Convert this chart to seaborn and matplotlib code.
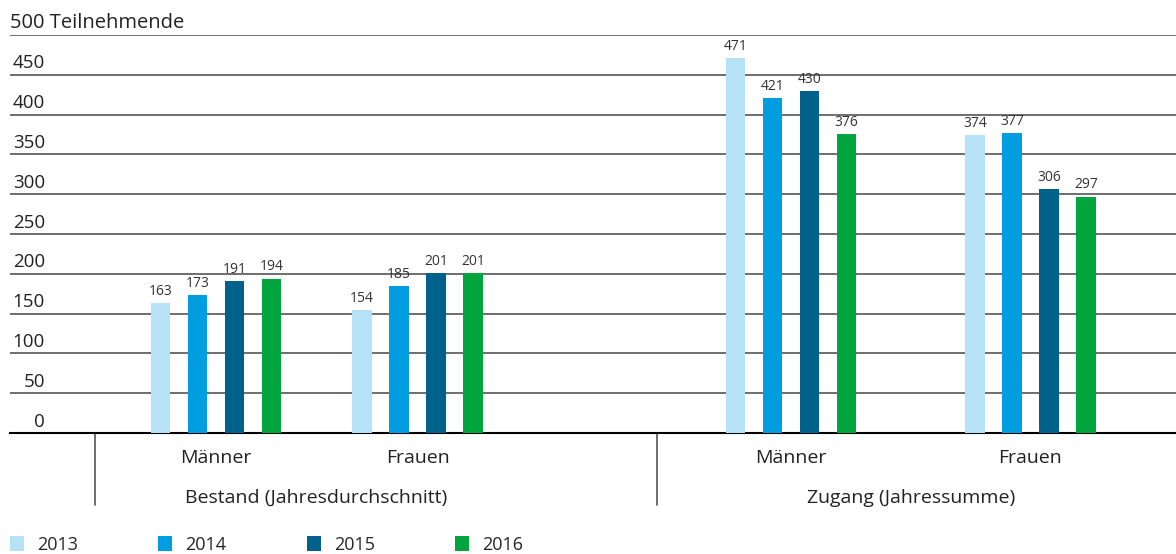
import pandas as pd
import numpy as np
import seaborn as sns
import matplotlib.pyplot as plt
from matplotlib.lines import Line2D

# Daten
kategorien = ['Männer', 'Frauen', 'Männer', 'Frauen']
oberkategorien = ['Bestand (Jahresdurchschnitt)', 'Zugang (Jahressumme)']
jahre = ['2013', '2014', '2015', '2016']
werte_2013 = [163, 154, 471, 374]
werte_2014 = [173, 185, 421, 377]
werte_2015 = [191, 201, 430, 306]
werte_2016 = [194, 201, 376, 297]
y_ticks = [0, 50, 100, 150, 200, 250, 300, 350, 400, 450, 500]
einheit = 'Teilnehmende'

farben = ['#b6e2f8', '#009ee0', '#00628a', '#00a53d']

# Layout (Achse in Pixel-Einheiten, 10..1176)
pos = [216, 417.5, 791, 1030.5]      # Gruppenmitten
ober_pos = [316, 911]                 # Mitte der Oberkategorien
trenner = [95, 657]                   # senkrechte Trennlinien

rows = []
for j, werte in zip(jahre, [werte_2013, werte_2014, werte_2015, werte_2016]):
    for p, w in zip(pos, werte):
        rows.append({'pos': p, 'jahr': j, 'wert': w})
df = pd.DataFrame(rows)

sns.set_theme(style='white')
plt.rcParams['font.family'] = ['Open Sans', 'DejaVu Sans']
txt_col = '#222222'

fig = plt.figure(figsize=(11.76, 5.54), dpi=100)
ax = fig.add_axes([10 / 1176, 121 / 554, 1166 / 1176, 398 / 554])

sns.barplot(data=df, x='pos', y='wert', hue='jahr', native_scale=True,
            palette=farben, saturation=1, width=0.7345, gap=0.486,
            errorbar=None, ax=ax, zorder=3, linewidth=0)

ax.set_xlim(10, 1176)
ax.set_ylim(0, 500)
ax.set_yticks(y_ticks)
ax.set_yticklabels([])
ax.set_xticks([])
ax.set_xlabel('')
ax.set_ylabel('')
ax.tick_params(length=0)
ax.grid(axis='y', color='#555555', lw=1.2, zorder=0)
ax.set_axisbelow(True)
for s in ['left', 'right', 'top']:
    ax.spines[s].set_visible(False)
ax.spines['bottom'].set_color('black')
ax.spines['bottom'].set_linewidth(1.5)

# Werte ueber den Balken
for c in ax.containers:
    ax.bar_label(c, padding=3, fontsize=10, color='#333333')

# y-Beschriftung
ytr = ax.get_yaxis_transform()
for t in y_ticks:
    if t == y_ticks[-1]:
        ax.text(0, t + 3, '%d %s' % (t, einheit), transform=ytr, ha='left',
                va='bottom', fontsize=14.5, color=txt_col, clip_on=False)
    else:
        ax.text(35 / 1166, t + 3, str(t), transform=ytr, ha='right',
                va='bottom', fontsize=13.5, color=txt_col)

# Kategorien unter der Achse
xtr = ax.get_xaxis_transform()
for p, k in zip(pos, kategorien):
    ax.text(p, -0.063, k, transform=xtr, ha='center', va='center',
            fontsize=14, color=txt_col)
for p, k in zip(ober_pos, oberkategorien):
    ax.text(p, -0.163, k, transform=xtr, ha='center', va='center',
            fontsize=14, color=txt_col)
for x in trenner:
    ax.add_line(Line2D([x, x], [0, -0.181], transform=xtr, color='#555555',
                       lw=1.2, clip_on=False))

# Legende
handles, labels = ax.get_legend_handles_labels()
ax.get_legend().remove()
fig.legend(handles, labels, loc='lower left', bbox_to_anchor=(10 / 1176, 0.0),
           ncol=4, frameon=False, fontsize=13, handlelength=0.75,
           handleheight=0.9, handletextpad=0.75, columnspacing=4.45,
           borderaxespad=0, borderpad=0)

fig.savefig('out.png', dpi=100)
